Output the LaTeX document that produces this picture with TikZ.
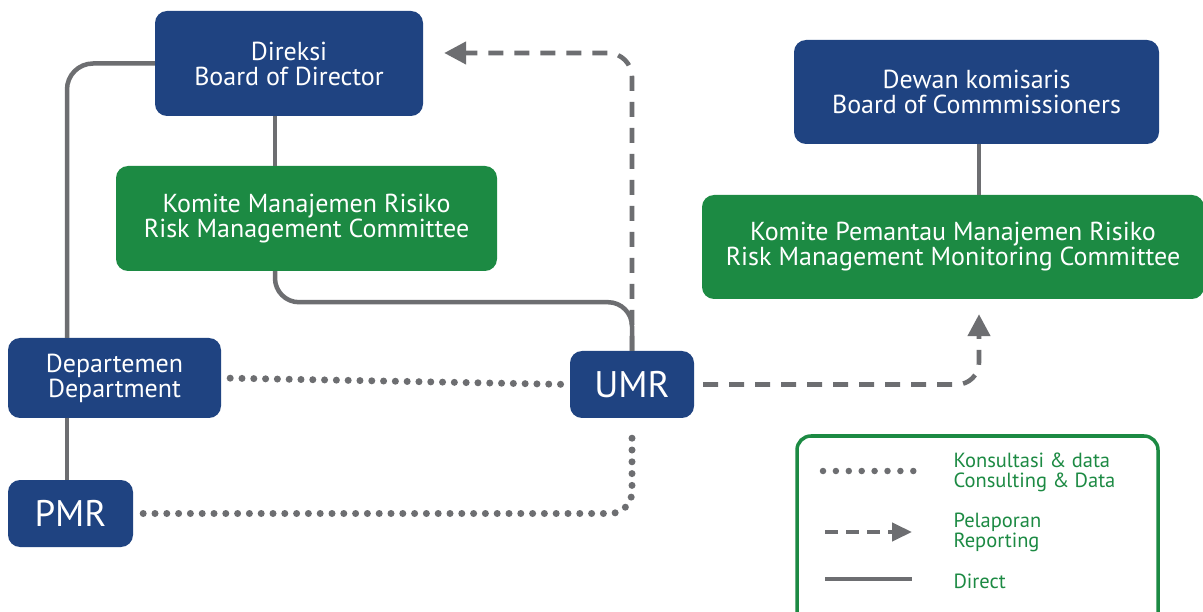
\documentclass[tikz,border=0pt]{standalone}
\usepackage{fontspec}
\setmainfont{PT Sans}
\usetikzlibrary{arrows.meta}
\definecolor{boardblue}{HTML}{1F4381}
\definecolor{riskgreen}{HTML}{1C8A43}
\definecolor{linegray}{HTML}{6D6E71}
\tikzset{
  unit/.style={rounded corners=12pt, inner sep=0pt, align=center, text=white},
  bluebox/.style={unit, fill=boardblue},
  greenbox/.style={unit, fill=riskgreen},
  boxtext/.style={font=\fontsize{26}{25}\selectfont},
  bigtext/.style={font=\fontsize{37}{37}\selectfont},
  direct/.style={draw=linegray, line width=4.5pt},
  consult/.style={draw=linegray, line width=7pt, line cap=round, dash pattern=on 0pt off 11.8pt},
  report/.style={draw=linegray, line width=4.6pt, dash pattern=on 15pt off 11pt,
    -{Triangle[length=22pt,width=22pt]}},
  legtext/.style={anchor=west, align=left, text=riskgreen, font=\fontsize{20.5}{20}\selectfont},
}
\begin{document}
\begin{tikzpicture}[x=1pt, y=-1pt]
\clip (0,0) rectangle (1203,612);
\fill[white] (0,0) rectangle (1203,612);

% organisation units
\node[bluebox, boxtext, minimum width=268pt, minimum height=105pt] (dir) at (289,63.5)
  {Direksi\\Board of Director};
\node[greenbox, boxtext, minimum width=381pt, minimum height=105pt] (kmr) at (306.5,218.5)
  {Komite Manajemen Risiko\\Risk Management Committee};
\node[bluebox, boxtext, minimum width=213pt, minimum height=80pt] (dep) at (114.5,378)
  {Departemen\\Department};
\node[bluebox, bigtext, minimum width=125pt, minimum height=67pt] (pmr) at (70.5,513.5)
  {PMR};
\node[bluebox, bigtext, minimum width=124pt, minimum height=67pt] (umr) at (632,384.5)
  {UMR};
\node[bluebox, boxtext, minimum width=365pt, minimum height=104pt] (bod) at (976.5,92)
  {Dewan komisaris\\Board of Commmissioners};
\node[greenbox, boxtext, minimum width=502pt, minimum height=104pt] (kpmr) at (953,247)
  {Komite Pemantau Manajemen Risiko\\Risk Management Monitoring Committee};

% direct lines
\draw[direct, rounded corners=26pt] (dir.west) -| ([xshift=-47.5pt]dep.north);
\draw[direct] ([xshift=-14pt]dir.south) -- ([xshift=-14pt]dir.south |- kmr.north);
\draw[direct, rounded corners=24pt] ([xshift=-31.5pt]kmr.south) -- ++(0,31) -| (umr.north);
\draw[direct] ([xshift=-47.5pt]dep.south) -- ([xshift=-47.5pt]dep.south |- pmr.north);
\draw[direct] ([xshift=2.5pt]bod.south) -- ([xshift=2.5pt]bod.south |- kpmr.north);

% consulting & data
\draw[consult, shorten <=9pt, shorten >=6pt] (dep.east) -- (umr.west);
\draw[consult, rounded corners=22pt, shorten <=10pt, shorten >=12pt] (pmr.east) -| (umr.south);

% reporting
\draw[report, rounded corners=24pt] (umr.north) |- ([xshift=21pt,yshift=10.5pt]dir.east);
\draw[report, rounded corners=22pt, shorten <=9pt] (umr.east) -| ([xshift=26pt,yshift=-15pt]kpmr.south);

% legend
\node[draw=riskgreen, line width=3.5pt, rounded corners=14pt, fill=white,
      minimum width=361pt, minimum height=190pt, inner sep=0pt] (leg) at (977.5,531) {};
\coordinate (c1) at (823,471);
\coordinate (c2) at (917,471);
\coordinate (r1) at (825,532);
\coordinate (r2) at (912,532);
\coordinate (d1) at (825,579);
\coordinate (d2) at (912,579);
\draw[consult, line width=6.5pt, dash pattern=on 0pt off 12.9pt] (c1) -- (c2);
\draw[report, line width=4.2pt, dash pattern=on 13pt off 8pt, -{Triangle[length=20pt,width=18pt]}] (r1) -- (r2);
\draw[direct, line width=4pt] (d1) -- (d2);
\node[legtext] (l1) at (950,472) {Konsultasi \& data\\Consulting \& Data};
\node[legtext] (l2) at (950,532) {Pelaporan\\Reporting};
\node[legtext] (l3) at (950,581) {Direct};
\end{tikzpicture}
\end{document}
